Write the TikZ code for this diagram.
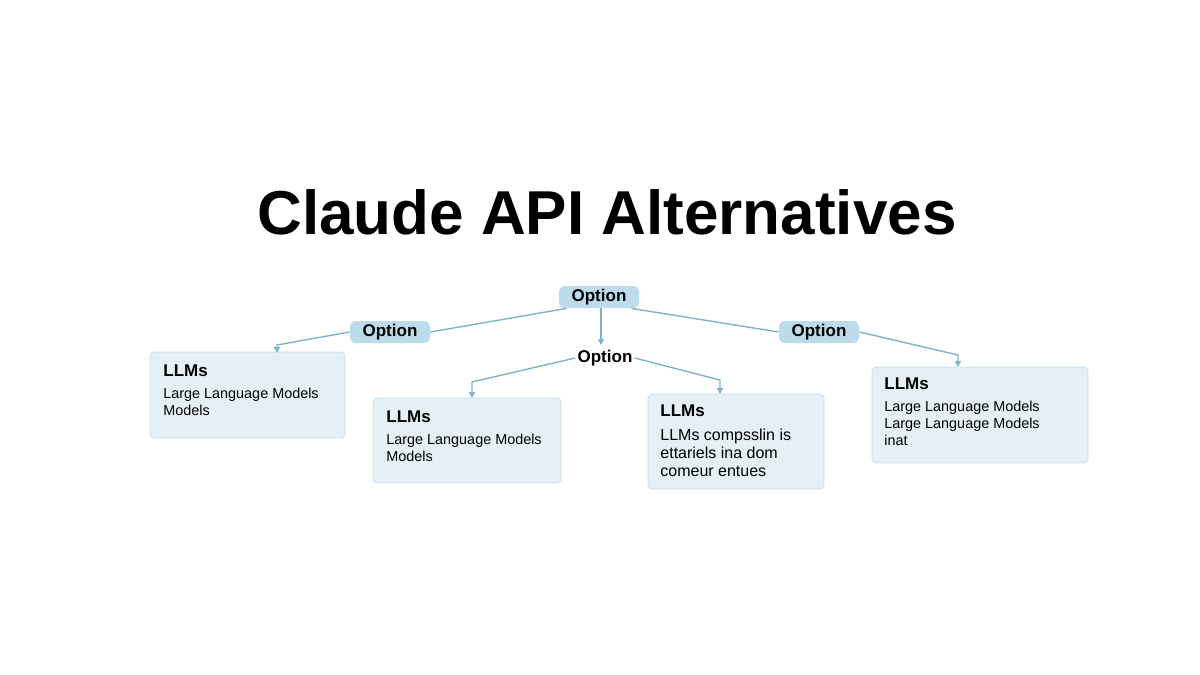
\documentclass[tikz,border=0pt]{standalone}
\usepackage{fontspec}
\setmainfont{Liberation Sans}
\usetikzlibrary{arrows.meta}
\definecolor{pillfill}{HTML}{BCDCEC}
\definecolor{boxfill}{HTML}{E4EFF6}
\definecolor{boxline}{HTML}{C9DDEA}
\definecolor{linkcol}{HTML}{7FB3CC}
\tikzset{
    pill/.style={fill=pillfill, rounded corners=3pt, inner sep=0pt, minimum width=40pt, minimum height=11pt, font=\fontsize{8.5}{10}\selectfont\bfseries},
    card/.style={fill=boxfill, draw=boxline, line width=0.4pt, rounded corners=2pt, anchor=north west},
    link/.style={draw=linkcol, line width=0.7pt, -{Triangle[length=3pt,width=3pt]}},
    head/.style={anchor=north west, inner sep=0pt, font=\fontsize{8.5}{10}\selectfont\bfseries},
    body/.style={anchor=north west, inner sep=0pt, align=left, font=\fontsize{7.2}{8.3}\selectfont},
}
\begin{document}
\begin{tikzpicture}[x=0.5pt, y=-0.5pt]
    \useasboundingbox (0,0) rectangle (1200,675);
    % title
    \node (title) at (607,212) {\fontsize{31}{36}\selectfont\bfseries Claude API Alternatives};
    % options
    \node[pill] (top) at (599,297) {Option};
    \node[pill] (left) at (390,332) {Option};
    \node[pill] (right) at (819,332) {Option};
    \node[font=\fontsize{8.5}{10}\selectfont\bfseries, inner sep=1pt] (mid) at (605,358) {Option};
    % cards
    \draw[card] (150,352) rectangle (345,438);
    \draw[card] (373,398) rectangle (561,483);
    \draw[card] (648,394) rectangle (824,489);
    \draw[card] (872,367) rectangle (1088,463);
    \node[head] (h1) at (163,364) {LLMs};
    \node[body] (t1) at (163,388) {Large Language Models\\Models};
    \node[head] (h2) at (386,410) {LLMs};
    \node[body] (t2) at (386,434) {Large Language Models\\Models};
    \node[head] (h3) at (660,404) {LLMs};
    \node[body, font=\fontsize{8}{9}\selectfont] (t3) at (660,428) {LLMs compsslin is\\ettariels ina dom\\comeur entues};
    \node[head] (h4) at (884,377) {LLMs};
    \node[body] (t4) at (884,401) {Large Language Models\\Large Language Models\\inat};
    % links
    \coordinate (c1) at (277,353);
    \coordinate (c2) at (472,398);
    \coordinate (c3) at (720,394);
    \coordinate (c4) at (958,367);
    \coordinate (c5) at (601,345);
    \draw[draw=linkcol, line width=0.7pt] (top.south west) ++(8,0) -- (left.east);
    \draw[draw=linkcol, line width=0.7pt] (top.south east) ++(-8,0) -- (right.west);
    \draw[link] (top.south) ++(2,0) -- (c5);
    \draw[link] (left.west) -- (277,345) -- (c1);
    \draw[link] (right.east) -- (958,355) -- (c4);
    \draw[link] (mid.west) -- (472,382) -- (c2);
    \draw[link] (mid.east) -- (720,380) -- (c3);
\end{tikzpicture}
\end{document}
